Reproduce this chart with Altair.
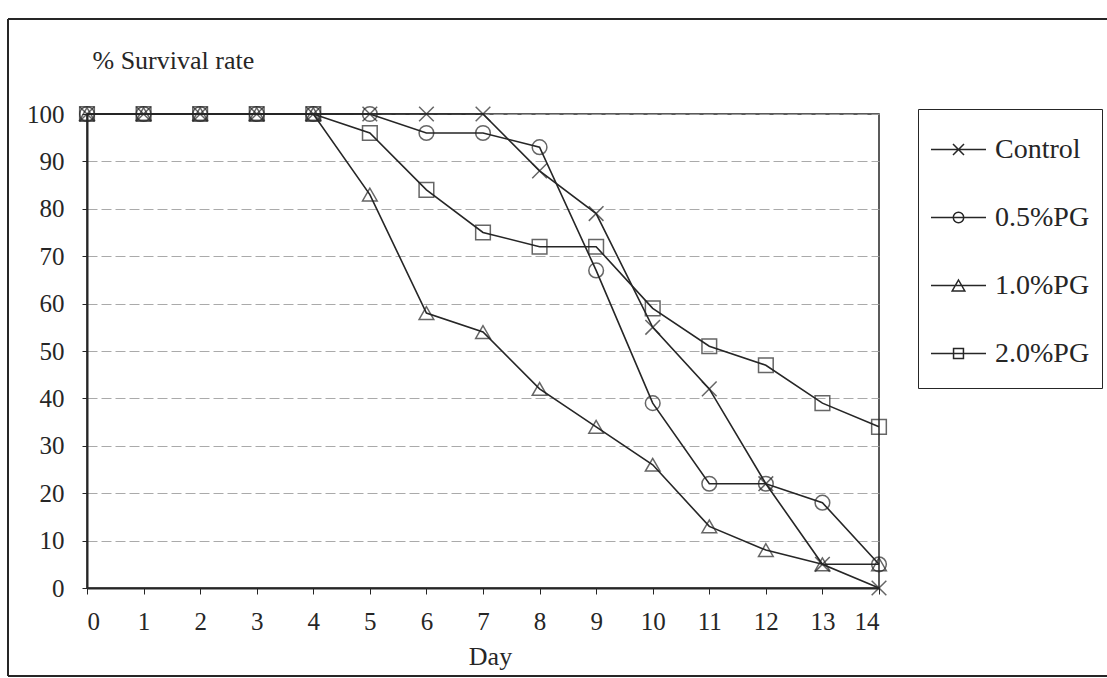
import altair as alt
import pandas as pd

# ---- data ----
days = list(range(15))
series_names = ["Control", "0.5%PG", "1.0%PG", "2.0%PG"]
control = [100, 100, 100, 100, 100, 100, 100, 100, 88, 79, 55, 42, 22, 5, 0]
pg05 = [100, 100, 100, 100, 100, 100, 96, 96, 93, 67, 39, 22, 22, 18, 5]
pg10 = [100, 100, 100, 100, 100, 83, 58, 54, 42, 34, 26, 13, 8, 5, 5]
pg20 = [100, 100, 100, 100, 100, 96, 84, 75, 72, 72, 59, 51, 47, 39, 34]
y_ticks = list(range(0, 101, 10))
x_ticks = days

rows = []
for name, vals in zip(series_names, [control, pg05, pg10, pg20]):
    for d, v in zip(days, vals):
        rows.append({"day": d, "value": v, "series": name})
df = pd.DataFrame(rows)

INK = "#262626"
FONT = "Liberation Serif"

X_PATH = "M-1,-1L1,1M-1,1L1,-1"
plot_shapes = [X_PATH, "circle", "triangle-up", "square"]
legend_shapes = [
    "M-1,0H1M-0.2,-0.2L0.2,0.2M-0.2,0.2L0.2,-0.2",
    "M-1,0H1M0.19,0A0.19,0.19,0,1,1,-0.19,0A0.19,0.19,0,1,1,0.19,0Z",
    "M-1,0H1M0,-0.2L0.23,0.2L-0.23,0.2Z",
    "M-1,0H1M-0.18,-0.18H0.18V0.18H-0.18Z",
]

x_enc = alt.X(
    "day:Q",
    scale=alt.Scale(domain=[0, 14], nice=False, zero=False),
    axis=alt.Axis(
        values=x_ticks, format="d", grid=False, title="Day",
        titleX=403, titleY=76, titleAlign="center", titleBaseline="alphabetic",
        labelPadding=15, tickSize=6,
    ),
)
y_enc = alt.Y(
    "value:Q",
    scale=alt.Scale(domain=[0, 100], nice=False),
    axis=alt.Axis(
        values=y_ticks, grid=True, title="% Survival rate",
        titleAngle=0, titleAlign="left", titleBaseline="alphabetic",
        titleX=5, titleY=-46, labelPadding=18, tickSize=5,
    ),
)

base = alt.Chart(df)

lines = base.mark_line(color=INK, strokeWidth=1.6).encode(
    x=x_enc, y=y_enc, detail="series:N"
)

points = base.mark_point(filled=False, color=INK, strokeWidth=1.5, size=215).encode(
    x=x_enc,
    y=y_enc,
    shape=alt.Shape(
        "series:N",
        scale=alt.Scale(domain=series_names, range=plot_shapes),
        legend=None,
    ),
)

legend_layer = base.mark_point(filled=False, color=INK, opacity=0, size=10).encode(
    x=x_enc,
    y=y_enc,
    shape=alt.Shape(
        "series:N",
        scale=alt.Scale(domain=series_names, range=legend_shapes),
        legend=alt.Legend(
            title=" ", titleOrient="bottom", titleFontSize=6, titlePadding=2,
            orient="none", legendX=831, legendY=-5,
            strokeColor=INK, fillColor="white", padding=12,
            labelFont=FONT, labelFontSize=28, labelColor=INK,
            labelOffset=8, rowPadding=25,
            symbolSize=3025, symbolStrokeWidth=1.5, symbolOpacity=1,
            symbolStrokeColor=INK, symbolFillColor="transparent",
        ),
    ),
)

frame_data = alt.Data(values=[{"k": 0}])
frame_left = alt.Chart(frame_data).mark_rule(color=INK, strokeWidth=2).encode(
    x=alt.value(-79), y=alt.value(-95), y2=alt.value(562)
)
frame_top = alt.Chart(frame_data).mark_rule(color=INK, strokeWidth=2).encode(
    x=alt.value(-79), x2=alt.value(1030), y=alt.value(-95)
)
frame_bottom = alt.Chart(frame_data).mark_rule(color=INK, strokeWidth=2).encode(
    x=alt.value(-79), x2=alt.value(1030), y=alt.value(562)
)

chart = (
    alt.layer(lines, points, legend_layer, frame_left, frame_top, frame_bottom)
    .resolve_scale(shape="independent")
    .properties(
        width=792,
        height=474,
        padding={"left": 87, "top": 114, "right": 228, "bottom": 90},
        autosize=alt.AutoSizeParams(type="none"),
        background="white",
    )
    .configure_view(stroke=INK, strokeWidth=1.5)
    .configure_axis(
        labelFont=FONT, labelFontSize=25, labelColor=INK,
        titleFont=FONT, titleFontSize=26, titleColor=INK, titleFontWeight="normal",
        domainColor=INK, domainWidth=2, tickColor=INK, tickWidth=1,
        gridColor="#a0a0a0", gridDash=[10, 4], gridWidth=0.9,
    )
)

chart.save("out.html", embed_options={"renderer": "svg", "actions": False})
